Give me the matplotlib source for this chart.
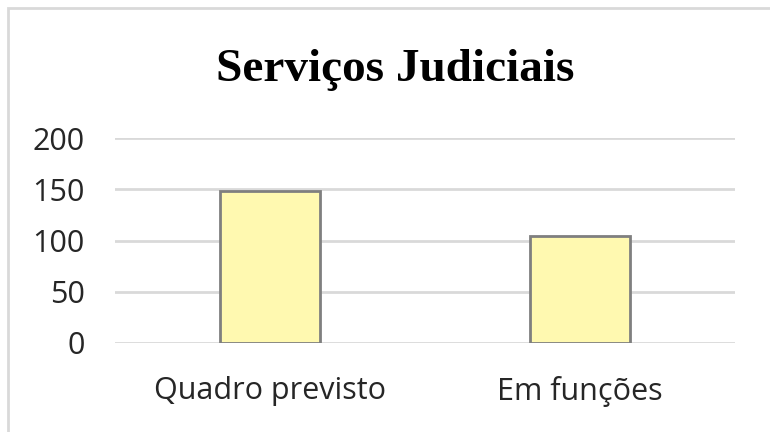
import matplotlib
matplotlib.use("Agg")
import matplotlib.pyplot as plt
from matplotlib.patches import Rectangle

categories = ["Quadro previsto", "Em funções"]
values = [148, 104]
yticks = [0, 50, 100, 150, 200]
title = "Serviços Judiciais"

fig = plt.figure(figsize=(7.7, 4.32), dpi=100)
ax = fig.add_axes([115 / 770, 1 - 343 / 432, 620 / 770, 205 / 432])

ax.bar(range(len(categories)), values, width=0.32, color="#fff9b0",
       edgecolor="#7f7f7f", linewidth=2, zorder=3)
ax.set_xlim(-0.5, len(categories) - 0.5)
ax.set_ylim(0, 200)
ax.set_yticks(yticks)
ax.set_xticks(range(len(categories)))
ax.set_xticklabels(categories, fontsize=22, family="Open Sans", color="#262626")
ax.set_yticklabels([str(v) for v in yticks], fontsize=22, family="Open Sans",
                   color="#262626")
ax.tick_params(length=0)
ax.tick_params(axis="y", pad=22)
ax.tick_params(axis="x", pad=24)
ax.grid(axis="y", color="#d9d9d9", linewidth=2, zorder=0)
for s in ax.spines.values():
    s.set_visible(False)

fig.text(395 / 770, 1 - 70 / 432, title, ha="center", va="center",
         fontsize=34, fontweight="bold", family="Liberation Serif")

# outer chart frame
fig.patches.append(Rectangle((8 / 770, -0.1), 1.2, 1 - 8 / 432 + 0.1,
                             transform=fig.transFigure, fill=False,
                             edgecolor="#d9d9d9", linewidth=2))

fig.savefig("out.png", dpi=100)
